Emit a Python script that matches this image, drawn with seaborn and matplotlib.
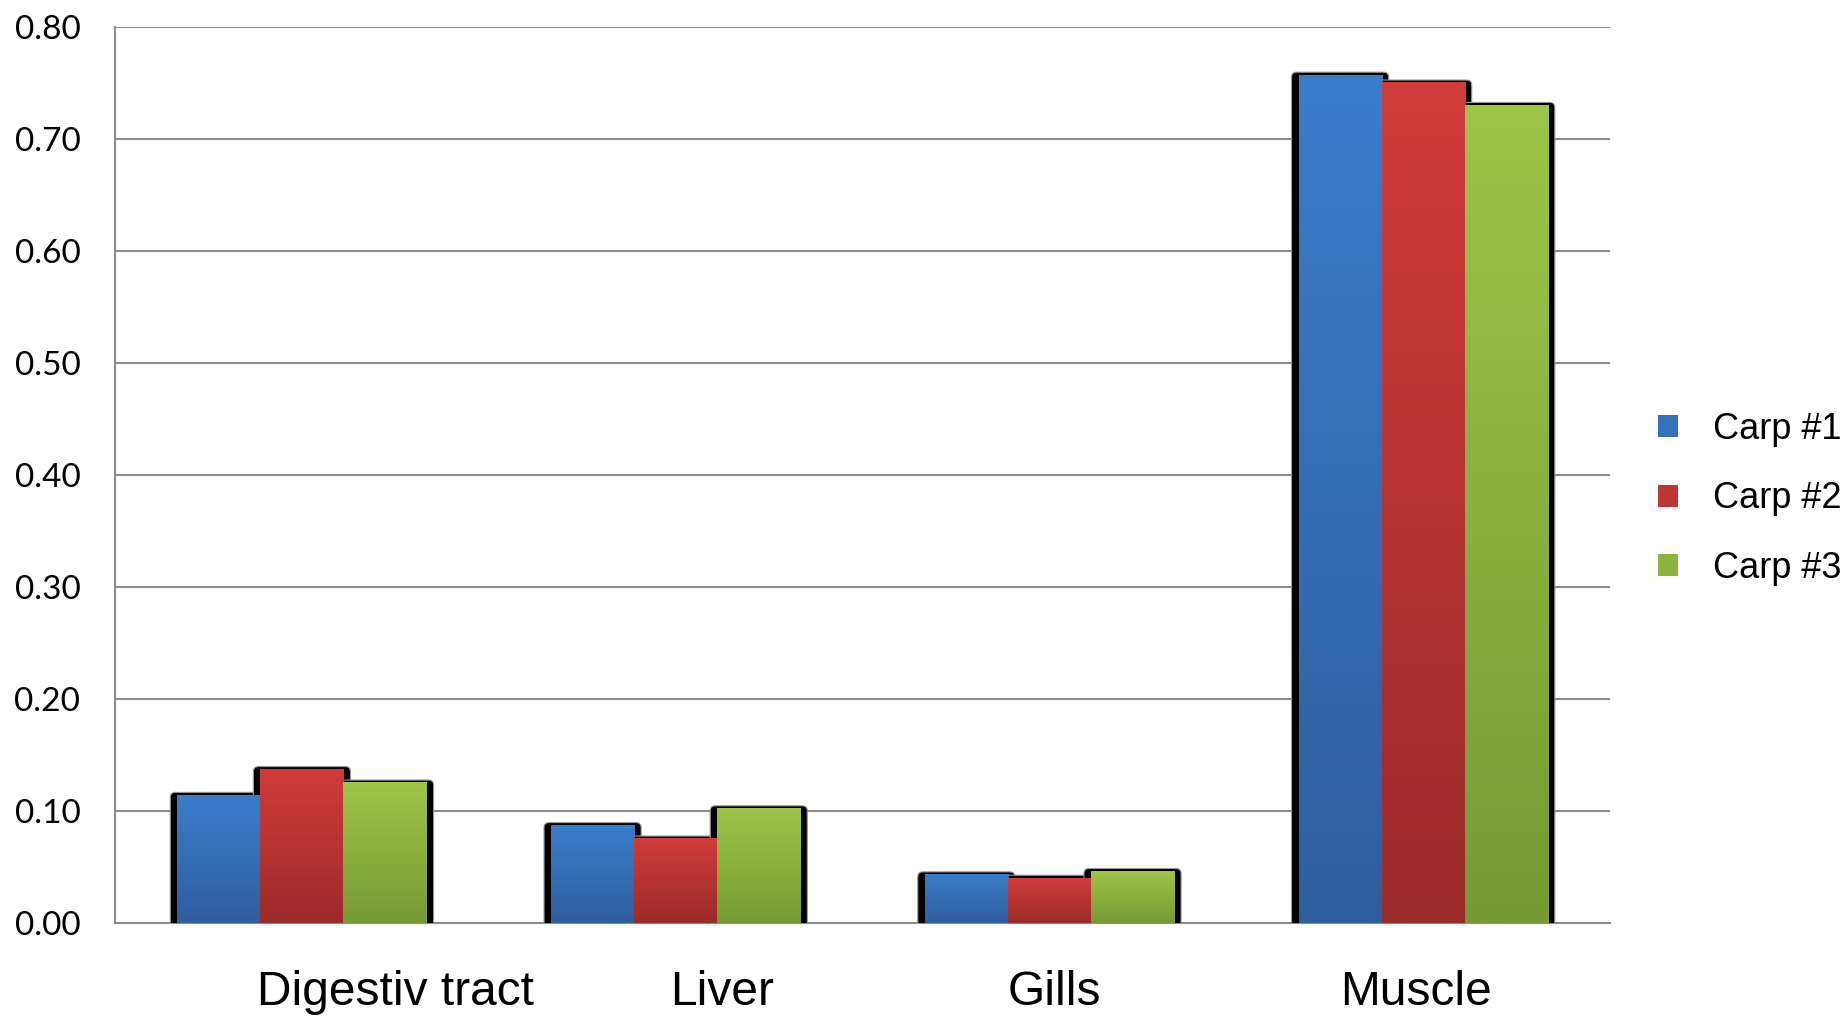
import numpy as np
import pandas as pd
import matplotlib
matplotlib.use("Agg")
import matplotlib.pyplot as plt
import matplotlib.transforms as mtransforms
from matplotlib.patches import FancyBboxPatch, Patch
import seaborn as sns

tissues = ["Digestiv tract", "Liver", "Gills", "Muscle"]
series = ["Carp #1", "Carp #2", "Carp #3"]
carp1 = [0.114, 0.087, 0.043, 0.757]
carp2 = [0.137, 0.075, 0.040, 0.750]
carp3 = [0.125, 0.102, 0.046, 0.730]

# gradient colours per series (top, bottom)
top_colors = ["#3A7DCB", "#D03C3A", "#9DC547"]
bottom_colors = ["#2F5E9E", "#9B2B2A", "#779A35"]
mid_colors = ["#3570B8", "#BC3634", "#8CB33F"]

df = pd.DataFrame({
    "tissue": tissues * 3,
    "value": carp1 + carp2 + carp3,
    "carp": np.repeat(series, len(tissues)),
})

sns.set_style("white")
fig = plt.figure(figsize=(18.47, 10.16), dpi=100)
ax = fig.add_axes([0.0623, 0.0915, 0.8094, 0.8819])

sns.barplot(data=df, x="tissue", y="value", hue="carp", order=tissues,
            hue_order=series, palette=top_colors, width=0.667, saturation=1,
            errorbar=None, legend=False, ax=ax)

# px -> data units
xpp = 4.0 / 1495
ypp = 0.8 / 896

for i, p in enumerate(list(ax.patches)):
    s = i // len(tissues)
    x, w, h = p.get_x(), p.get_width(), p.get_height()
    shadow = FancyBboxPatch((x - 7 * xpp, -0.01), w + 14 * xpp, h + 0.01 + 3 * ypp,
                            boxstyle="round,pad=0,rounding_size=%f" % (5 * xpp),
                            mutation_aspect=ypp / xpp,
                            facecolor="black", edgecolor="#999999", linewidth=0.8,
                            zorder=1.5)
    ax.add_patch(shadow)
    c0 = np.array(matplotlib.colors.to_rgb(top_colors[s]))
    c1 = np.array(matplotlib.colors.to_rgb(bottom_colors[s]))
    t = np.linspace(0, 1, 128)[:, None]
    grad = (c0 * (1 - t) + c1 * t)[:, None, :]
    ax.imshow(grad, extent=(x, x + w, 0, h), aspect="auto", origin="upper",
              interpolation="bilinear", zorder=2)
    p.set_visible(False)

ax.set_xlim(-0.5, 3.5)
ax.set_ylim(0, 0.8)

ax.set_yticks(np.arange(0, 0.81, 0.1))
ax.set_yticklabels(["%.2f" % v for v in np.arange(0, 0.81, 0.1)],
                   fontsize=24, family="Lato", color="black")
ax.tick_params(axis="y", length=0, pad=25)
ax.tick_params(axis="x", length=0, pad=34)
for lab in ax.get_xticklabels():
    lab.set_fontsize(34.5)
    lab.set_family("Liberation Sans")
    lab.set_color("black")

# nudge category labels like the original
offsets = [94, 46, 5, -7]
for lab, dx in zip(ax.get_xticklabels(), offsets):
    lab.set_transform(lab.get_transform() +
                      mtransforms.ScaledTranslation(dx / 100, 0, fig.dpi_scale_trans))

ax.yaxis.grid(True, color="#8c8c8c", linewidth=1.5)
ax.set_axisbelow(True)
for side in ["top", "right"]:
    ax.spines[side].set_visible(False)
for side in ["left", "bottom"]:
    ax.spines[side].set_color("#8c8c8c")
    ax.spines[side].set_linewidth(1.5)
ax.spines["bottom"].set_zorder(0.5)

ax.set_xlabel("")
ax.set_ylabel("")

handles = [Patch(facecolor=c, edgecolor="none") for c in mid_colors]
leg = fig.legend(handles=handles, labels=series, loc="center left",
                 bbox_to_anchor=(1658 / 1847, 1 - 499 / 1016), frameon=False,
                 prop={"family": "Liberation Sans", "size": 26},
                 handlelength=0.56, handleheight=0.56, handletextpad=0.95,
                 labelspacing=0.95, borderpad=0, borderaxespad=0)
for txt in leg.get_texts():
    txt.set_color("black")

fig.savefig("out.png", dpi=100)
